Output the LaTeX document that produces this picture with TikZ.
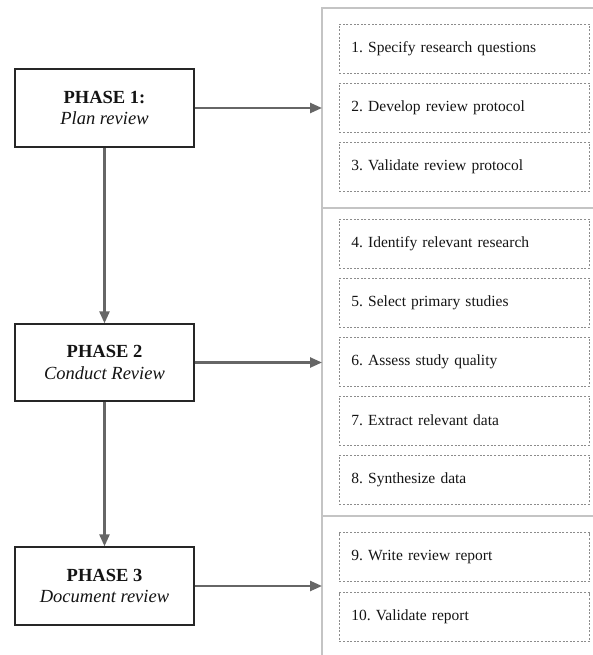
\documentclass[tikz,border=0pt]{standalone}
\usepackage{fontspec}
\setmainfont{Liberation Serif}
\usetikzlibrary{arrows.meta}
\frenchspacing
\definecolor{arrowgray}{HTML}{666666}
\definecolor{panelgray}{HTML}{C4C4C4}
\definecolor{dashgray}{HTML}{8C8C8C}
\definecolor{txt}{HTML}{141414}
\tikzset{
  phasebox/.style={draw=black!85, line width=1.3pt, fill=white, minimum width=179pt, minimum height=78pt, align=center, font=\fontsize{18.5}{21.5}\selectfont, text=txt},
  itembox/.style={draw=dashgray, line width=0.8pt, dash pattern=on 2pt off 1.6pt, minimum height=49pt, text width=226pt, inner xsep=12pt, inner ysep=0pt, align=left, anchor=west, font=\fontsize{15.5}{18}\selectfont, text=txt},
  flow/.style={draw=arrowgray, line width=2.4pt, -{Triangle[length=12pt,width=10pt]}},
  panel/.style={draw=panelgray, line width=1.3pt}
}
\begin{document}
\begin{tikzpicture}[x=1pt,y=-1pt]
\useasboundingbox (0,0) rectangle (593,655);
% right panel
\coordinate (ptl) at (322,8);
\coordinate (ptr) at (594,8);
\coordinate (pbl) at (322,656);
\coordinate (s1l) at (322,208);
\coordinate (s1r) at (594,208);
\coordinate (s2l) at (322,516);
\coordinate (s2r) at (594,516);
\draw[panel] (ptr) -- (ptl) -- (pbl);
\draw[panel] (s1l) -- (s1r);
\draw[panel] (s2l) -- (s2r);
% items
\node[itembox] (i1) at (339,48.5) {1. Specify research questions};
\node[itembox] (i2) at (339,107.5) {2. Develop review protocol};
\node[itembox] (i3) at (339,166.5) {3. Validate review protocol};
\node[itembox] (i4) at (339,243.5) {4. Identify relevant research};
\node[itembox] (i5) at (339,302.5) {5. Select primary studies};
\node[itembox] (i6) at (339,361.5) {6. Assess study quality};
\node[itembox] (i7) at (339,420.5) {7. Extract relevant data};
\node[itembox] (i8) at (339,479.5) {8. Synthesize data};
\node[itembox] (i9) at (339,557) {9. Write review report};
\node[itembox] (i10) at (339,617) {10. Validate report};
% phases
\node[phasebox] (p1) at (104.5,108) {\textbf{PHASE 1:}\\\textit{Plan review}};
\node[phasebox, minimum height=77pt] (p2) at (104.5,362.5) {\textbf{PHASE 2}\\\textit{Conduct Review}};
\node[phasebox] (p3) at (104.5,586) {\textbf{PHASE 3}\\\textit{Document review}};
% arrows
\draw[flow] (p1.south) -- (p2.north);
\draw[flow] (p2.south) -- (p3.north);
\draw[flow] (p1.east) -- (p1.east -| ptl);
\draw[flow] (p2.east) -- (p2.east -| ptl);
\draw[flow] (p3.east) -- (p3.east -| ptl);
\end{tikzpicture}
\end{document}
